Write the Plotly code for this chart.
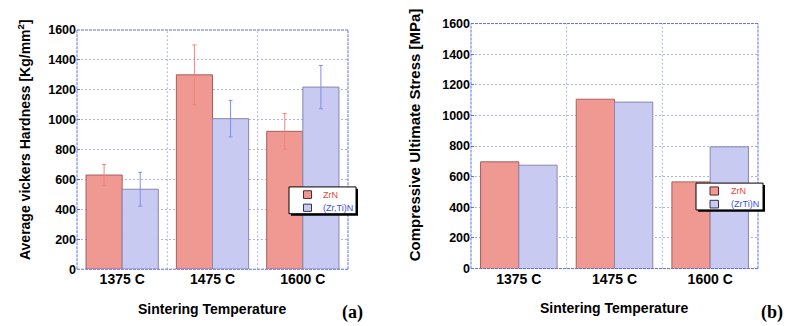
import plotly.graph_objects as go

categories = ["1375 C", "1475 C", "1600 C"]
hard_zrn = [630, 1300, 922]
hard_zrn_err = [70, 200, 120]
hard_zrtin = [535, 1007, 1218]
hard_zrtin_err = [113, 122, 145]
stress_zrn = [697, 1106, 566]
stress_zrtin = [675, 1087, 795]
y_ticks = [0, 200, 400, 600, 800, 1000, 1200, 1400, 1600]

RED_FILL = "rgb(240,152,146)"
RED_LINE = "rgb(165,95,95)"
BLUE_FILL = "rgb(200,202,242)"
BLUE_LINE = "rgb(135,135,175)"
GRID = "rgb(170,178,240)"
AXIS = "rgb(95,110,230)"
FONT = "Liberation Sans, Arial, sans-serif"
RED_TXT = "#e8413a"
BLUE_TXT = "#3b4ee8"

fig = go.Figure()

fig.add_trace(go.Bar(x=categories, y=hard_zrn, name="ZrN",
                     marker=dict(color=RED_FILL, line=dict(color=RED_LINE, width=1)),
                     error_y=dict(type="data", array=hard_zrn_err, color="rgb(245,130,120)", thickness=1, width=2),
                     xaxis="x", yaxis="y"))
fig.add_trace(go.Bar(x=categories, y=hard_zrtin, name="(Zr,Ti)N",
                     marker=dict(color=BLUE_FILL, line=dict(color=BLUE_LINE, width=1)),
                     error_y=dict(type="data", array=hard_zrtin_err, color="rgb(130,140,235)", thickness=1, width=2),
                     xaxis="x", yaxis="y"))
fig.add_trace(go.Bar(x=categories, y=stress_zrn, name="ZrN",
                     marker=dict(color=RED_FILL, line=dict(color=RED_LINE, width=1)),
                     xaxis="x2", yaxis="y2"))
fig.add_trace(go.Bar(x=categories, y=stress_zrtin, name="(ZrTi)N",
                     marker=dict(color=BLUE_FILL, line=dict(color=BLUE_LINE, width=1)),
                     xaxis="x2", yaxis="y2"))

xcommon = dict(type="category", showgrid=False, showline=False,
               ticks="", tickfont=dict(family=FONT, size=14, color="black", weight="bold"))
ycommon = dict(range=[0, 1600], tickvals=y_ticks, showgrid=True, gridcolor=GRID, griddash="2px,2px",
               gridwidth=1, showline=False, ticks="inside", ticklen=3,
               tickcolor=AXIS, zeroline=False,
               tickfont=dict(family=FONT, size=12.5, color="black", weight="bold"))

fig.update_layout(
    width=792, height=326, margin=dict(l=0, r=0, t=0, b=0),
    paper_bgcolor="white", plot_bgcolor="white",
    barmode="group", bargap=0.2, bargroupgap=0,
    showlegend=False,
    xaxis=dict(domain=[77/792, 348/792], anchor="y", **xcommon),
    yaxis=dict(domain=[52/326, 302/326], anchor="x", **ycommon),
    xaxis2=dict(domain=[471/792, 758/792], anchor="y2", **xcommon),
    yaxis2=dict(domain=[52.7/326, 308.7/326], anchor="x2", **ycommon),
)

shapes = []
annotations = []
for xa, ya in [("x", "y"), ("x2", "y2")]:
    for b in [0.5, 1.5]:
        shapes.append(dict(type="line", xref=xa, yref=ya + " domain", x0=b, x1=b, y0=0, y1=1,
                           line=dict(color=GRID, width=1, dash="2px,2px"), layer="below"))
    frame = [(0, 0, 1, 0), (0, 1, 1, 1), (0, 0, 0, 1), (1, 0, 1, 1)]
    for x0, y0, x1, y1 in frame:
        shapes.append(dict(type="line", xref=xa + " domain", yref=ya + " domain", x0=x0, x1=x1, y0=y0, y1=y1,
                           line=dict(color=AXIS, width=1, dash="3px,1px"), layer="above"))


def px(x):
    return x / 792


def py(y):
    return 1 - y / 326


def add_legend(box, items):
    bx0, by0, bx1, by1 = box
    shapes.append(dict(type="rect", xref="paper", yref="paper", x0=px(bx0 + 2), x1=px(bx1 + 2),
                       y0=py(by1 + 2), y1=py(by0 + 2), fillcolor="black", line=dict(width=0), layer="above"))
    shapes.append(dict(type="rect", xref="paper", yref="paper", x0=px(bx0), x1=px(bx1),
                       y0=py(by1), y1=py(by0), fillcolor="white", line=dict(color="black", width=1), layer="above"))
    for (sx0, sy0, sx1, sy1, fill, line, label, tcol, tx) in items:
        shapes.append(dict(type="rect", xref="paper", yref="paper", x0=px(sx0), x1=px(sx1),
                           y0=py(sy1), y1=py(sy0), fillcolor=fill, line=dict(color=line, width=1), layer="above"))
        annotations.append(dict(text=label, xref="paper", yref="paper", x=px(tx), y=py((sy0 + sy1) / 2),
                                xanchor="left", yanchor="middle", showarrow=False,
                                font=dict(family=FONT, size=9, color=tcol)))


add_legend((289, 188, 356, 216), [
    (303.5, 192, 311.5, 200, RED_FILL, "rgb(90,40,40)", "ZrN", RED_TXT, 321),
    (303.5, 206, 311.5, 213.5, BLUE_FILL, "rgb(50,50,80)", "(Zr,Ti)N", BLUE_TXT, 321),
])
add_legend((696, 184, 763, 212), [
    (710, 188, 718.5, 196.5, RED_FILL, "rgb(90,40,40)", "ZrN", RED_TXT, 728.5),
    (710, 202, 718.5, 210, BLUE_FILL, "rgb(50,50,80)", "(ZrTi)N", BLUE_TXT, 728.5),
])

fig.update_layout(shapes=shapes)

titles = [
    dict(text="<b>Average vickers Hardness [Kg/mm<sup>2</sup>]</b>", x=24/792, y=1 - 139/326, textangle=-90, size=14),
    dict(text="<b>Compressive Ultimate Stress [MPa]</b>", x=414/792, y=1 - 134/326, textangle=-90, size=15),
    dict(text="<b>Sintering Temperature</b>", x=212.5/792, y=1 - 316/326, textangle=0, size=14),
    dict(text="<b>Sintering Temperature</b>", x=614.5/792, y=1 - 315/326, textangle=0, size=14),
]
for a in titles:
    size = a.pop("size")
    annotations.append(dict(xref="paper", yref="paper", showarrow=False, xanchor="center", yanchor="middle",
                            font=dict(family=FONT, size=size, color="black"), **a))
annotations.append(dict(text="<b>(a)</b>", xref="paper", yref="paper", x=352/792, y=1 - 319/326, showarrow=False,
                        xanchor="center", yanchor="middle",
                        font=dict(family="Liberation Serif, Times New Roman, serif", size=18, color="black")))
annotations.append(dict(text="<b>(b)</b>", xref="paper", yref="paper", x=772/792, y=1 - 319/326, showarrow=False,
                        xanchor="center", yanchor="middle",
                        font=dict(family="Liberation Serif, Times New Roman, serif", size=18, color="black")))
fig.update_layout(annotations=annotations)

fig.write_html("out.html")
